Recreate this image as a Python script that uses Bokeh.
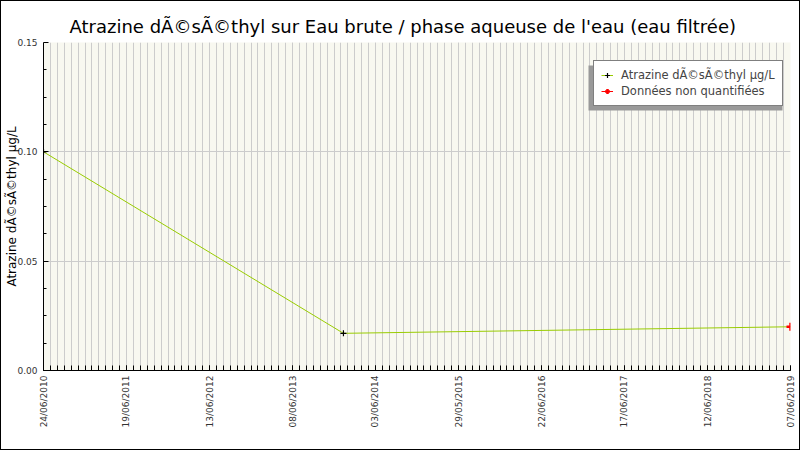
import math
import pandas as pd
from bokeh.plotting import figure
from bokeh.models import (ColumnDataSource, FixedTicker, Range1d, Legend, LegendItem,
                          BoxAnnotation)
from bokeh.embed import file_html
from bokeh.resources import INLINE

# ---- data ----
dates = ["2010-06-24", "2014-01-27", "2019-06-07"]
values = [0.100, 0.017, 0.020]
quantified = [True, True, False]
tick_labels = ["24/06/2010", "19/06/2011", "13/06/2012", "08/06/2013", "03/06/2014",
               "29/05/2015", "22/06/2016", "17/06/2017", "12/06/2018", "07/06/2019"]
y_ticks = [0.0, 0.05, 0.10, 0.15]
series_name = "Atrazine dÃ©sÃ©thyl µg/L"
nq_name = "Données non quantifiées"
y_label = "Atrazine dÃ©sÃ©thyl µg/L"
title_text = "Atrazine dÃ©sÃ©thyl sur Eau brute / phase aqueuse de l'eau (eau filtrée)"

d = pd.to_datetime(dates)
days = [(t - d[0]).days for t in d]
span = days[-1]
n_int = len(tick_labels) - 1
major = [round(i * span / n_int) for i in range(len(tick_labels))]
minor = [i * span / (n_int * 12) for i in range(n_int * 12 + 1)]
overrides = {m: lab for m, lab in zip(major, tick_labels)}

src_all = ColumnDataSource(dict(x=days, y=values))
src_q = ColumnDataSource(dict(x=[x for x, q in zip(days, quantified) if q],
                              y=[v for v, q in zip(values, quantified) if q]))
src_nq = ColumnDataSource(dict(x=[x for x, q in zip(days, quantified) if not q],
                               y=[v for v, q in zip(values, quantified) if not q]))

p = figure(width=800, height=450, output_backend="svg", toolbar_location=None,
           x_range=Range1d(0, span), y_range=Range1d(0, 0.15),
           min_border_left=42, min_border_right=11, min_border_top=41, min_border_bottom=81)
p.background_fill_color = "#f8f8f0"
p.border_fill_color = "white"
p.outline_line_color = None
p.styles = {"border": "1px solid black", "box-sizing": "border-box"}

p.title.text = title_text
p.title.align = "left"
p.title.offset = 26
p.title.text_font = "DejaVu Sans"
p.title.text_font_size = "18px"
p.title.text_font_style = "normal"
p.title.text_color = "black"
if "standoff" in p.title.properties():
    p.title.standoff = 12

# axes
xa = p.xaxis[0]
xa.ticker = FixedTicker(ticks=major, minor_ticks=minor)
xa.major_label_overrides = overrides
xa.major_label_orientation = math.pi / 2
xa.major_label_text_font = "DejaVu Sans"
xa.major_label_text_font_size = "9px"
xa.major_label_text_color = "#333333"
xa.major_label_standoff = 5
xa.major_tick_in = 5
xa.major_tick_out = 0
xa.minor_tick_in = 5
xa.minor_tick_out = 0
xa.axis_line_color = "black"

ya = p.yaxis[0]
ya.ticker = FixedTicker(ticks=y_ticks,
                        minor_ticks=[i * 0.0125 for i in range(13)])
ya.major_label_overrides = {t: f"{t:.2f}" for t in y_ticks}
ya.major_label_text_font = "DejaVu Sans"
ya.major_label_text_font_size = "9px"
ya.major_label_text_color = "#333333"
ya.major_label_standoff = 6
ya.major_tick_in = 5
ya.major_tick_out = 0
ya.minor_tick_in = 3
ya.minor_tick_out = 0
ya.axis_line_color = "black"
ya.axis_label = y_label
ya.axis_label_text_font = "DejaVu Sans"
ya.axis_label_text_font_size = "12px"
ya.axis_label_text_font_style = "normal"
ya.axis_label_text_color = "black"
ya.axis_label_standoff = -5

# grids
p.xgrid.ticker = FixedTicker(ticks=major, minor_ticks=minor)
p.xgrid.grid_line_color = "#cccccc"
p.xgrid.minor_grid_line_color = "#cccccc"
p.ygrid.ticker = FixedTicker(ticks=y_ticks)
p.ygrid.grid_line_color = "#cccccc"

# glyphs
line = p.line("x", "y", source=src_all, line_color="#99cc00", line_width=1)
pts = p.scatter("x", "y", source=src_q, marker="cross", size=6, line_color="black", line_width=1.2)
nq_line = p.line("x", "y", source=src_nq, line_color="red", line_width=1)
nq_pts = p.scatter("x", "y", source=src_nq, marker="cross", size=8, line_color="red", line_width=2.5)

# legend shadow
p.add_layout(BoxAnnotation(left=545, right=739, top=305, bottom=260,
                           left_units="screen", right_units="screen",
                           top_units="screen", bottom_units="screen",
                           fill_color="#999999", fill_alpha=1, line_color=None))

legend = Legend(items=[LegendItem(label=series_name, renderers=[line, pts]),
                       LegendItem(label=nq_name, renderers=[nq_line, nq_pts])],
                location=(550, 264))
legend.border_line_color = "black"
legend.border_line_width = 1
legend.background_fill_color = "white"
legend.background_fill_alpha = 1
legend.label_text_font = "DejaVu Sans"
legend.label_text_font_size = "11.5px"
legend.glyph_width = 12
legend.glyph_height = 12
legend.label_height = 14
legend.spacing = 2
legend.padding = 7
legend.margin = 0
legend.label_standoff = 8
p.add_layout(legend, "center")

open("out.html", "w").write(file_html(p, INLINE))
